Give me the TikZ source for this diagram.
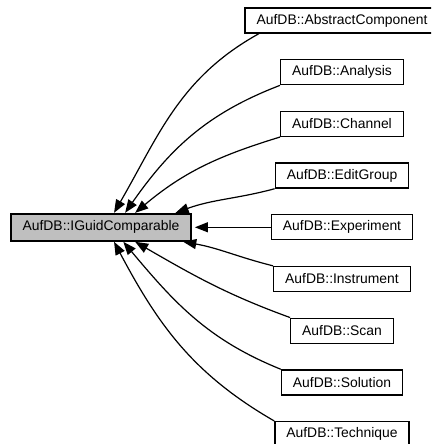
\documentclass[tikz,border=0pt]{standalone}
\usepackage{fontspec}
\setmainfont{Liberation Sans}
\usetikzlibrary{arrows.meta}

\tikzset{
  classbox/.style={draw, fill=white, line width=1.3pt, minimum height=25pt,
    inner xsep=11.5pt, inner ysep=0pt, font=\fontsize{13.9}{16}\selectfont},
  basebox/.style={classbox, fill=black!25, line width=2pt, minimum height=27pt},
  inherit/.style={-{Triangle[length=13pt,width=10pt]}, line width=1.2pt},
}

\begin{document}
\begin{tikzpicture}[x=1pt, y=1pt]
\useasboundingbox (0,0) rectangle (431,444);
\clip (0,0) rectangle (431,444);
% base class
\node[basebox] (guid) at (101,216.7) {AufDB::IGuidComparable};
% derived classes
\node[classbox] (abstract) at (342,423.5) {AufDB::AbstractComponent};
\node[classbox] (analysis) at (342,371.8) {AufDB::Analysis};
\node[classbox] (channel) at (342,320.1) {AufDB::Channel};
\node[classbox] (editgroup) at (342,268.4) {AufDB::EditGroup};
\node[classbox] (experiment) at (342,216.7) {AufDB::Experiment};
\node[classbox] (instrument) at (342,165) {AufDB::Instrument};
\node[classbox] (scan) at (342,113.3) {AufDB::Scan};
\node[classbox] (solution) at (342,61.6) {AufDB::Solution};
\node[classbox] (technique) at (342,9.9) {AufDB::Technique};
% inheritance arrows
\draw[inherit] (abstract.189) to[out=209, in=60] (guid.48);
\draw[inherit] (analysis.south west) to[out=201, in=55] (guid.31);
\draw[inherit] (channel.south west) to[out=197, in=40] (guid.23);
\draw[inherit] (editgroup.south west) to[out=195, in=20] (guid.11);
\draw[inherit, shorten >=3pt] (experiment.west) -- (guid.east);
\draw[inherit] (instrument.north west) to[out=166, in=-10] (guid.-10);
\draw[inherit] (scan.north west) to[out=160, in=-30] (guid.-23);
\draw[inherit] (solution.north west) to[out=158, in=-50] (guid.-33);
\draw[inherit] (technique.north west) to[out=150, in=-62] (guid.-48);
\end{tikzpicture}
\end{document}
